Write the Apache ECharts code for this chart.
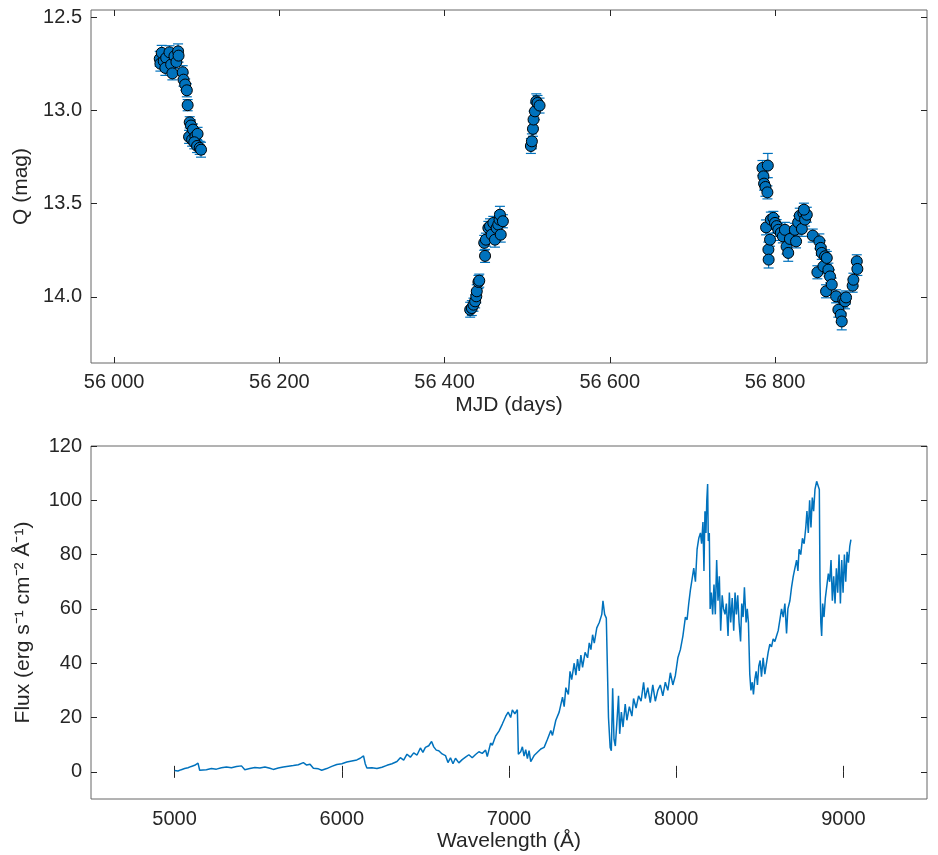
<!DOCTYPE html>
<html>
<head>
<meta charset="utf-8">
<script src="https://cdn.jsdelivr.net/npm/echarts@6/dist/echarts.min.js"></script>
<style>
html,body{margin:0;padding:0;background:#fff;}
#chart{width:938px;height:855px;}
</style>
</head>
<body>
<div id="chart"></div>
<script>
// ---- Light curve (top panel) ----
const mjd = [
  56055.2,56056,56057.6,56060,56063,56062,56067,56069,56070.5,56073,56075.4,56077.4,56078,
  56083,56084,56086,56088,56089,56091.5,56093,56090.7,56095.5,56094.4,56098.4,56101,56097,56100.4,56103.6,56105.2,
  56431,56433,56435,56437,56438.4,56439,56441,56442,56448,56449,56450,56453,56455,56457,56459,56461,56463,56465,56466.5,56467,56468,56470.6,
  56504.5,56505.7,56507,56507.7,56509.4,56511,56512.5,56515,
  56784.8,56786,56786.8,56788.4,56791.3,56790.8,56789.2,56792,56792.3,56794,56795,56798,56800,56802,56804,56807,56809.5,56812,56814,56816,56818,
  56824,56825.5,56828,56830,56832.5,56834.4,56836.4,56838.5,56835,56845.7,56851.3,56853.7,56855.4,56856.6,56858.6,56860.6,56862.7,56861.8,56864.6,56866.6,56868.7,
  56874,56876.7,56879.6,56880.8,56882.7,56884.8,56886,56894,56894.9,56899,56899.7
];
const qmag = [
  12.722,12.748,12.690,12.735,12.717,12.771,12.687,12.753,12.800,12.708,12.739,12.682,12.705,
  12.794,12.834,12.860,12.891,12.971,13.063,13.080,13.141,13.102,13.156,13.138,13.125,13.170,13.190,13.200,13.210,
  14.069,14.060,14.042,14.024,13.997,13.970,13.920,13.913,13.710,13.780,13.693,13.630,13.621,13.666,13.603,13.693,13.630,13.612,13.585,13.559,13.666,13.594,
  13.190,13.165,13.098,13.048,13.004,12.950,12.959,12.973,
  13.308,13.353,13.392,13.410,13.295,13.439,13.627,13.746,13.800,13.693,13.585,13.576,13.603,13.620,13.640,13.657,13.675,13.640,13.730,13.764,13.689,
  13.640,13.702,13.600,13.564,13.635,13.550,13.585,13.559,13.532,13.671,13.868,13.702,13.737,13.764,13.836,13.782,13.791,13.970,13.854,13.890,13.934,
  13.997,14.069,14.096,14.132,14.015,14.024,14.003,13.940,13.908,13.809,13.850
];
const qerr = [
  0.04,0.04,0.04,0.035,0.04,0.04,0.035,0.04,0.035,0.04,0.035,0.04,0.035,
  0.035,0.035,0.03,0.035,0.03,0.03,0.03,0.035,0.03,0.035,0.03,0.035,0.035,0.035,0.035,0.04,
  0.04,0.04,0.035,0.035,0.035,0.035,0.035,0.035,0.04,0.035,0.035,0.035,0.04,0.04,0.035,0.04,0.035,0.04,0.04,0.045,0.04,0.035,
  0.04,0.04,0.04,0.045,0.045,0.04,0.04,0.04,
  0.04,0.04,0.035,0.05,0.065,0.035,0.04,0.04,0.045,0.035,0.04,0.035,0.035,0.035,0.035,0.04,0.035,0.04,0.04,0.045,0.035,
  0.035,0.035,0.035,0.04,0.04,0.035,0.035,0.04,0.035,0.035,0.035,0.04,0.04,0.035,0.04,0.035,0.035,0.035,0.035,0.035,0.035,
  0.035,0.04,0.04,0.045,0.04,0.04,0.035,0.035,0.035,0.035,0.035
];

// ---- Spectrum (bottom panel) ----
const wavelength = [
  5000,5020,5040,5060,5080,5100,5120,5140,5150,5160,5190,5220,5250,5280,5310,5340,5370,5400,5410,5420,
  5450,5480,5510,5540,5570,5590,5620,5650,5680,5710,5740,5770,5790,5810,5830,5860,5880,5910,5940,5970,
  6000,6030,6060,6090,6110,6130,6140,6150,6180,6210,6240,6270,6300,6330,6350,6370,6390,6410,6430,6450,
  6470,6485,6500,6520,6537,6550,6565,6580,6600,6620,6635,6650,6665,6680,6700,6720,6740,6760,6780,6800,
  6820,6840,6860,6870,6890,6900,6920,6940,6960,6980,6995,7010,7020,7035,7050,7056,7070,7080,7090,7100,
  7110,7120,7130,7150,7170,7190,7210,7230,7250,7260,7280,7300,7320,7330,7340,7355,7365,7375,7390,7400,
  7410,7420,7430,7440,7455,7470,7480,7490,7500,7510,7525,7540,7555,7562,7572,7582,7590,7595,7605,7612,
  7620,7628,7636,7645,7655,7662,7672,7682,7695,7705,7720,7735,7745,7760,7775,7790,7805,7815,7830,7845,
  7860,7875,7890,7905,7920,7935,7950,7965,7980,7995,8010,8025,8040,8055,8065,8075,8085,8095,8105,8115,
  8125,8135,8145,8152,8160,8166,8172,8178,8183,8188,8192,8198,8203,8210,8218,8226,8234,8242,8250,8258,
  8266,8275,8283,8292,8300,8310,8318,8326,8335,8344,8352,8360,8368,8376,8385,8392,8400,8408,8418,8425,
  8432,8440,8447,8455,8462,8470,8478,8486,8494,8502,8510,8520,8530,8540,8550,8560,8570,8580,8590,8600,
  8610,8620,8630,8640,8650,8660,8668,8680,8690,8700,8710,8720,8728,8735,8745,8755,8765,8775,8782,8790,
  8798,8806,8814,8822,8830,8840,8850,8856,8860,8865,8870,8876,8884,8892,8900,8910,8918,8926,8934,8942,
  8950,8958,8966,8974,8982,8990,8998,9006,9014,9022,9030,9038,9045
];
const flux = [
  0.5,0.3,0.8,1.2,1.5,2.0,2.4,3.2,0.6,0.1,0.8,1.2,1.0,1.5,1.8,1.5,2.0,2.2,2.8,0.8,
  1.2,1.6,1.4,1.8,1.3,0.9,1.4,1.8,2.1,2.3,2.6,3.4,2.5,2.8,1.3,1.1,0.6,1.2,2.0,2.7,
  3.0,3.6,4.0,4.4,5.0,5.9,3.0,1.4,1.5,1.2,1.7,2.4,3.0,3.8,5.2,4.3,6.5,5.4,7.0,6.2,
  8.8,7.2,9.0,9.6,11.2,9.2,8.0,7.8,6.6,6.0,3.4,5.2,3.0,5.0,3.3,4.5,5.4,6.3,5.2,6.4,
  7.4,6.8,8.0,5.6,10.6,9.8,13.2,15.0,17.6,20.4,22.0,20.0,22.8,21.4,22.9,6.5,7.4,9.2,5.8,8.2,
  4.9,7.8,3.8,6.0,7.2,8.4,9.0,12.0,15.2,13.4,19.0,22.0,27.5,24.0,31.0,28.5,37.0,34.0,40.0,35.6,
  41.5,37.2,43.0,38.5,44.0,42.0,47.5,45.0,50.5,47.4,53.0,55.0,58.0,63.0,58.0,56.6,56.0,20.0,9.0,7.8,
  30.8,12.0,9.5,18.0,28.0,14.0,22.0,16.5,25.0,19.0,24.0,20.5,27.0,23.5,28.0,26.0,33.0,27.0,31.0,25.5,
  32.0,26.0,30.0,32.0,28.0,33.0,30.0,36.5,32.0,35.5,42.0,45.0,50.0,57.0,56.0,62.0,67.0,71.0,75.0,70.0,
  82.0,86.0,88.0,84.0,92.0,74.0,96.0,88.0,100.0,106.0,85.0,88.0,60.0,66.0,58.0,69.0,58.0,78.0,63.0,72.0,
  52.0,65.0,60.0,58.0,62.0,50.0,66.0,55.0,64.0,52.0,66.0,58.0,65.0,55.0,48.0,62.0,57.0,68.0,55.0,60.0,
  55.0,36.0,30.0,33.0,28.5,34.0,37.0,32.0,39.0,41.0,35.0,42.0,36.0,40.0,44.0,47.0,46.0,49.0,48.0,50.0,
  52.0,56.0,60.0,57.0,62.0,51.0,60.0,63.0,68.0,72.0,75.0,78.0,74.0,82.0,80.0,86.0,84.0,90.0,96.0,88.0,
  100.0,90.0,101.0,96.0,104.0,107.0,107.5,104.0,70.0,55.0,50.0,62.0,57.0,64.0,68.0,73.0,70.0,78.0,63.0,72.0,
  62.0,75.0,66.0,80.0,62.0,78.0,66.0,80.0,70.0,81.0,77.0,83.0,85.5
];

// ---- Tick labels ----
const topXTicks = [56000, 56200, 56400, 56600, 56800];
const topYTicks = [12.5, 13.0, 13.5, 14.0];
const botXTicks = [5000, 6000, 7000, 8000, 9000];
const botYTicks = [0, 20, 40, 60, 80, 100, 120];

const BLUE = '#0072BD';
const TXT = '#262626';
const FRAME = '#666666';
const FONT = 'Liberation Sans';
const FS = 20;

const lcData = mjd.map((m, i) => [m, qmag[i], qerr[i]]);
const specData = wavelength.map((w, i) => [w, flux[i]]);

function fmtMJD(v) {
  const s = String(Math.round(v));
  return s.slice(0, 2) + '\u2005' + s.slice(2);
}

const labelStyle = { color: TXT, fontSize: FS, fontFamily: FONT };
const nameStyle = { color: TXT, fontSize: 21, fontFamily: FONT };

function tickAxis(extra) {
  return Object.assign({
    axisLine: { show: false },
    splitLine: { show: false },
  }, extra);
}

const chart = echarts.init(document.getElementById('chart'), null, { renderer: 'canvas' });

const option = {
  animation: false,
  backgroundColor: '#fff',
  grid: [
    { left: 91, top: 10, width: 836, height: 353, show: true, borderColor: FRAME, borderWidth: 1, backgroundColor: 'transparent' },
    { left: 91, top: 446, width: 836, height: 353, show: true, borderColor: FRAME, borderWidth: 1, backgroundColor: 'transparent' }
  ],
  xAxis: [
    tickAxis({
      type: 'value', gridIndex: 0, min: 55972, max: 56984, position: 'bottom',
      axisTick: { show: true, inside: true, length: 6, customValues: topXTicks, lineStyle: { color: TXT } },
      axisLabel: { show: true, customValues: topXTicks, formatter: fmtMJD, margin: 9, ...labelStyle },
      name: 'MJD (days)', nameLocation: 'middle', nameGap: 32, nameTextStyle: nameStyle
    }),
    tickAxis({
      type: 'value', gridIndex: 0, min: 55972, max: 56984, position: 'top',
      axisTick: { show: true, inside: true, length: 6, customValues: topXTicks, lineStyle: { color: TXT } },
      axisLabel: { show: false }
    }),
    tickAxis({
      type: 'value', gridIndex: 1, min: 4500, max: 9500, position: 'bottom',
      axisTick: { show: true, inside: true, length: 6, customValues: botXTicks, lineStyle: { color: TXT } },
      axisLabel: { show: true, customValues: botXTicks, formatter: v => String(Math.round(v)), margin: 10, ...labelStyle },
      name: 'Wavelength (Å)', nameLocation: 'middle', nameGap: 32, nameTextStyle: nameStyle
    }),
    tickAxis({
      type: 'value', gridIndex: 1, min: 4500, max: 9500, position: 'top',
      axisTick: { show: true, inside: true, length: 6, customValues: botXTicks, lineStyle: { color: TXT } },
      axisLabel: { show: false }
    })
  ],
  yAxis: [
    tickAxis({
      type: 'value', gridIndex: 0, min: 12.46, max: 14.355, inverse: true, position: 'left',
      axisTick: { show: true, inside: true, length: 6, customValues: topYTicks, lineStyle: { color: TXT } },
      axisLabel: { show: true, customValues: topYTicks, formatter: v => v.toFixed(1), margin: 9, ...labelStyle },
      name: 'Q (mag)', nameLocation: 'middle', nameGap: 57, nameTextStyle: nameStyle
    }),
    tickAxis({
      type: 'value', gridIndex: 0, min: 12.46, max: 14.355, inverse: true, position: 'right',
      axisTick: { show: true, inside: true, length: 6, customValues: topYTicks, lineStyle: { color: TXT } },
      axisLabel: { show: false }
    }),
    tickAxis({
      type: 'value', gridIndex: 1, min: -10, max: 120, position: 'left',
      axisTick: { show: true, inside: true, length: 6, customValues: botYTicks, lineStyle: { color: TXT } },
      axisLabel: { show: true, customValues: botYTicks, formatter: v => String(Math.round(v)), margin: 9, ...labelStyle },
      name: 'Flux (erg s⁻¹ cm⁻² Å⁻¹)', nameLocation: 'middle', nameGap: 57, nameTextStyle: nameStyle
    }),
    tickAxis({
      type: 'value', gridIndex: 1, min: -10, max: 120, position: 'right',
      axisTick: { show: true, inside: true, length: 6, customValues: botYTicks, lineStyle: { color: TXT } },
      axisLabel: { show: false }
    })
  ],
  series: [
    {
      type: 'custom',
      xAxisIndex: 0, yAxisIndex: 0,
      data: lcData,
      z: 2,
      renderItem: function (params, api) {
        const x = api.value(0), y = api.value(1), e = api.value(2);
        const p1 = api.coord([x, y - e]);
        const p2 = api.coord([x, y + e]);
        const cw = 5;
        const st = { stroke: BLUE, lineWidth: 1.2, fill: null };
        return {
          type: 'group',
          children: [
            { type: 'line', shape: { x1: p1[0], y1: p1[1], x2: p2[0], y2: p2[1] }, style: st },
            { type: 'line', shape: { x1: p1[0] - cw, y1: p1[1], x2: p1[0] + cw, y2: p1[1] }, style: st },
            { type: 'line', shape: { x1: p2[0] - cw, y1: p2[1], x2: p2[0] + cw, y2: p2[1] }, style: st }
          ]
        };
      },
      encode: { x: 0, y: 1 }
    },
    {
      type: 'scatter',
      xAxisIndex: 0, yAxisIndex: 0,
      data: lcData.map(d => [d[0], d[1]]),
      symbol: 'circle',
      symbolSize: 11,
      itemStyle: { color: BLUE, borderColor: '#000', borderWidth: 1, opacity: 1 },
      z: 3
    },
    {
      type: 'line',
      xAxisIndex: 2, yAxisIndex: 2,
      data: specData,
      showSymbol: false,
      symbol: 'none',
      lineStyle: { color: BLUE, width: 1.5 },
      z: 3
    }
  ]
};
chart.setOption(option);
</script>
</body>
</html>
